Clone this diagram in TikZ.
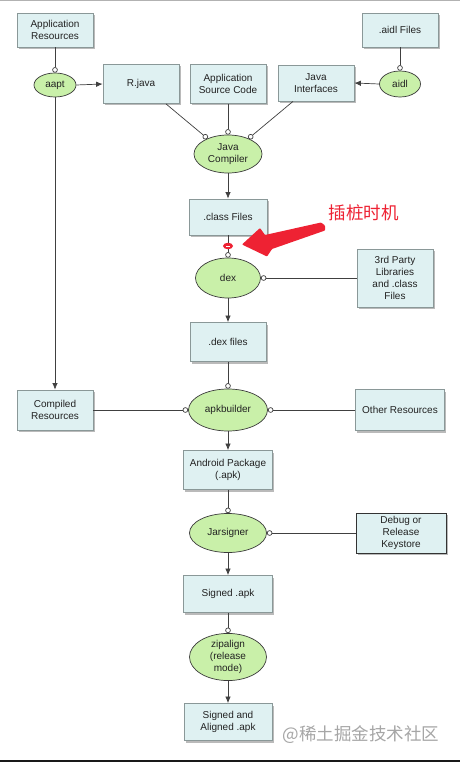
\documentclass[tikz,border=0pt]{standalone}
\usepackage{fontspec}
\setmainfont{Liberation Sans}
\newfontfamily\cjkfont{Noto Sans CJK SC}
\usetikzlibrary{shapes.geometric,arrows.meta,shadows}
\definecolor{boxfill}{HTML}{DFF1F2}
\definecolor{boxdraw}{HTML}{8A9898}
\definecolor{ovalfill}{HTML}{C9F0A9}
\definecolor{ovaldraw}{HTML}{3A3A3A}
\definecolor{txt}{HTML}{222222}
\definecolor{redmark}{HTML}{EE2233}
\tikzset{
  boxnode/.style={draw=boxdraw, fill=boxfill, line width=0.8pt, rectangle, inner sep=1pt,
    align=center, text=txt, font=\fontsize{10}{12}\selectfont,
    drop shadow={shadow xshift=1.5pt, shadow yshift=-2pt, opacity=0.45, fill=black!60}},
  ovalnode/.style={draw=ovaldraw, fill=ovalfill, line width=0.7pt, ellipse, inner sep=0pt,
    align=center, text=txt, font=\fontsize{10}{12}\selectfont},
  conn/.style={draw=black!75, line width=0.7pt},
  tocirc/.style={conn, -{Circle[open, length=5.5pt, fill=white, line width=0.7pt]}},
  toarrow/.style={conn, -{Latex[length=6.5pt, width=5.5pt]}},
}
\begin{document}
\begin{tikzpicture}[x=1pt, y=-1pt]
\useasboundingbox (0,0) rectangle (460,762);
\fill[white] (0,0) rectangle (460,762);
\draw[black!30, line width=1.2pt] (0,0.8) -- (460,0.8);
\draw[black!90, line width=1.5pt] (0,761) -- (460,761);

% boxes
\node[boxnode, minimum width=76pt, minimum height=34pt] (appres) at (55,30) {Application\\Resources};
\node[boxnode, minimum width=76pt, minimum height=34pt] (aidlf) at (400,30) {.aidl Files};
\node[boxnode, minimum width=76pt, minimum height=39pt] (rjava) at (141,84) {R.java};
\node[boxnode, minimum width=76pt, minimum height=39pt] (src) at (228,84) {Application\\Source Code};
\node[boxnode, minimum width=76pt, minimum height=36pt] (jif) at (316,83) {Java\\Interfaces};
\node[boxnode, minimum width=78pt, minimum height=36pt] (cls) at (228,217) {.class Files};
\node[boxnode, minimum width=76pt, minimum height=58pt] (third) at (395,278) {3rd Party\\Libraries\\and .class\\Files};
\node[boxnode, minimum width=76pt, minimum height=39pt] (dexf) at (228,342) {.dex files};
\node[boxnode, minimum width=76pt, minimum height=40pt] (comp) at (55,410) {Compiled\\Resources};
\node[boxnode, minimum width=89pt, minimum height=41pt] (other) at (400,410) {Other Resources};
\node[boxnode, minimum width=89pt, minimum height=39pt] (pkg) at (228,470) {Android Package\\(.apk)};
\node[boxnode, draw=black!80, minimum width=90pt, minimum height=40pt] (keys) at (401,533) {Debug or\\Release\\Keystore};
\node[boxnode, minimum width=89pt, minimum height=37pt] (signed) at (228,594) {Signed .apk};
\node[boxnode, minimum width=88pt, minimum height=37pt] (aligned) at (228,722) {Signed and\\Aligned .apk};

% ovals
\node[ovalnode, minimum width=42pt, minimum height=24pt] (aapt) at (55,85) {aapt};
\node[ovalnode, minimum width=41pt, minimum height=26pt] (aidl) at (400,84) {aidl};
\node[ovalnode, minimum width=68pt, minimum height=38pt] (jc) at (228,154) {Java\\Compiler};
\node[ovalnode, minimum width=65pt, minimum height=40pt] (dex) at (228,278) {dex};
\node[ovalnode, minimum width=79pt, minimum height=42pt] (apkb) at (228,410) {apkbuilder};
\node[ovalnode, minimum width=77pt, minimum height=39pt] (jar) at (228,533) {Jarsigner};
\node[ovalnode, minimum width=77pt, minimum height=40pt] (zip) at (228,657) {zipalign\\(release\\mode)};

% connectors
\draw[tocirc] (appres.south) -- (aapt.north);
\draw[toarrow] (aapt.east) -- (rjava.west);
\draw[tocirc] (aidlf.south) -- (aidl.north);
\draw[toarrow] (aidl.west) -- (jif.west -| jif.east);
\draw[tocirc] ([xshift=25pt]rjava.south) -- (jc.143);
\draw[tocirc] (src.south) -- (jc.north);
\draw[tocirc] ([xshift=-23pt]jif.south) -- (jc.37);
\draw[toarrow] (jc.south) -- (cls.north);
\draw[tocirc] (cls.south) -- (dex.north);
\draw[tocirc] (third.west) -- (dex.east);
\draw[toarrow] (dex.south) -- (dexf.north);
\draw[tocirc] (dexf.south) -- (apkb.north);
\draw[toarrow] (aapt.south) -- (comp.north);
\draw[tocirc] (comp.east) -- (apkb.west);
\draw[tocirc] (other.west) -- (apkb.east);
\draw[toarrow] (apkb.south) -- (pkg.north);
\draw[tocirc] (pkg.south) -- (jar.north);
\draw[tocirc] (keys.west) -- (jar.east);
\draw[toarrow] (jar.south) -- (signed.north);
\draw[tocirc] (signed.south) -- (zip.north);
\draw[toarrow] (zip.south) -- (aligned.north);

% red marker
\node[ellipse, fill=redmark, minimum width=10pt, minimum height=6.5pt, inner sep=0pt] (marker) at (228,246) {};
\draw[white, line width=0.6pt] ([xshift=-2pt]marker.center) -- ([xshift=2pt]marker.center);

% red arrow
\coordinate (tip) at (242,244.5);
\fill[redmark, rounded corners=0.8pt] (tip) -- (260,228) -- (265,235) -- (321,222.5) -- (325,225.5) -- (325,230.5) -- (272,249) -- (267,256.5) -- cycle;

\node[text=redmark, font=\cjkfont\fontsize{17.5}{19}\selectfont, anchor=west] (label) at (325,213) {插桩时机};
\node[text=black!35, font=\cjkfont\fontsize{17.5}{19}\selectfont, anchor=west] (wm) at (279,735) {@稀土掘金技术社区};
\end{tikzpicture}
\end{document}
